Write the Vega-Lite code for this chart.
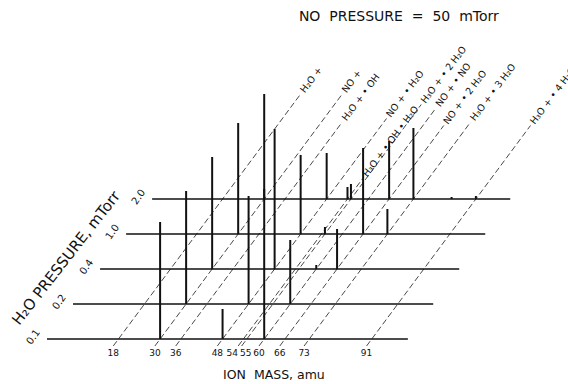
{
  "$schema": "https://vega.github.io/schema/vega-lite/v6.json",
  "width": 568,
  "height": 384,
  "autosize": {"type": "none"},
  "padding": 0,
  "background": "white",
  "config": {"view": {"stroke": null}, "font": "DejaVu Sans"},
  "datasets": {
    "traces": [
      {"pressure": "0.1", "rank": 0, "startMass": -2.6, "endMass": 101.4},
      {"pressure": "0.2", "rank": 1, "startMass": -2.6, "endMass": 101.2},
      {"pressure": "0.4", "rank": 2, "startMass": -2.3, "endMass": 101.2},
      {"pressure": "1.0", "rank": 3, "startMass": -2.3, "endMass": 101.2},
      {"pressure": "2.0", "rank": 4, "startMass": -2.3, "endMass": 100.9}
    ],
    "peaks": [
      {"pressure": "0.1", "rank": 0, "mass": 30, "intensity": 117},
      {"pressure": "0.1", "rank": 0, "mass": 48, "intensity": 30},
      {"pressure": "0.1", "rank": 0, "mass": 60, "intensity": 150},
      {"pressure": "0.2", "rank": 1, "mass": 30, "intensity": 113},
      {"pressure": "0.2", "rank": 1, "mass": 48, "intensity": 108},
      {"pressure": "0.2", "rank": 1, "mass": 60, "intensity": 64},
      {"pressure": "0.4", "rank": 2, "mass": 30, "intensity": 112},
      {"pressure": "0.4", "rank": 2, "mass": 48, "intensity": 140},
      {"pressure": "0.4", "rank": 2, "mass": 60, "intensity": 4},
      {"pressure": "0.4", "rank": 2, "mass": 66, "intensity": 40},
      {"pressure": "1.0", "rank": 3, "mass": 30, "intensity": 111},
      {"pressure": "1.0", "rank": 3, "mass": 48, "intensity": 79},
      {"pressure": "1.0", "rank": 3, "mass": 55, "intensity": 7},
      {"pressure": "1.0", "rank": 3, "mass": 66, "intensity": 86},
      {"pressure": "1.0", "rank": 3, "mass": 73, "intensity": 25},
      {"pressure": "2.0", "rank": 4, "mass": 30, "intensity": 105},
      {"pressure": "2.0", "rank": 4, "mass": 48, "intensity": 46},
      {"pressure": "2.0", "rank": 4, "mass": 54, "intensity": 12},
      {"pressure": "2.0", "rank": 4, "mass": 55, "intensity": 15},
      {"pressure": "2.0", "rank": 4, "mass": 66, "intensity": 58},
      {"pressure": "2.0", "rank": 4, "mass": 73, "intensity": 71},
      {"pressure": "2.0", "rank": 4, "mass": 84, "intensity": 2},
      {"pressure": "2.0", "rank": 4, "mass": 91, "intensity": 3}
    ],
    "ions": [
      {"mass": 18, "ion": "H₂O +", "guideTop": 7.0},
      {"mass": 30, "ion": "NO +", "guideTop": 7.0},
      {"mass": 36, "ion": "H₃O + • OH", "guideTop": 6.2},
      {"mass": 48, "ion": "NO + • H₂O", "guideTop": 6.3},
      {"mass": 54, "ion": "H₃O + • OH • H₂O", "guideTop": 4.6},
      {"mass": 55, "ion": "H₃O + • 2 H₂O", "guideTop": 6.7},
      {"mass": 60, "ion": "NO + • NO", "guideTop": 6.6},
      {"mass": 66, "ion": "NO + • 2 H₂O", "guideTop": 6.1},
      {"mass": 73, "ion": "H₃O + • 3 H₂O", "guideTop": 6.2},
      {"mass": 91, "ion": "H₃O + • 4 H₂O", "guideTop": 6.1}
    ]
  },
  "layer": [
    {
      "data": {"name": "ions"},
      "transform": [
        {"calculate": "datum.mass - 7.5 * 0.2", "as": "gx1"},
        {"calculate": "-35 * 0.2", "as": "gy1"},
        {"calculate": "datum.mass + 7.5 * datum.guideTop", "as": "gx2"},
        {"calculate": "35 * datum.guideTop", "as": "gy2"}
      ],
      "mark": {"type": "rule", "strokeDash": [6, 3], "strokeWidth": 0.9, "color": "#333"},
      "encoding": {
        "x": {"field": "gx1", "type": "quantitative", "scale": {"domain": [-16.14, 147.55], "nice": false, "zero": false}, "axis": null},
        "y": {"field": "gy1", "type": "quantitative", "scale": {"domain": [-45, 339], "nice": false, "zero": false}, "axis": null},
        "x2": {"field": "gx2"},
        "y2": {"field": "gy2"}
      }
    },
    {
      "data": {"name": "traces"},
      "transform": [
        {"calculate": "datum.startMass + 7.5 * datum.rank", "as": "bx1"},
        {"calculate": "datum.endMass + 7.5 * datum.rank", "as": "bx2"},
        {"calculate": "35 * datum.rank", "as": "by"}
      ],
      "mark": {"type": "rule", "strokeWidth": 1.3, "color": "#111"},
      "encoding": {
        "x": {"field": "bx1", "type": "quantitative", "scale": {"domain": [-16.14, 147.55], "nice": false, "zero": false}, "axis": null},
        "x2": {"field": "bx2"},
        "y": {"field": "by", "type": "quantitative", "scale": {"domain": [-45, 339], "nice": false, "zero": false}, "axis": null}
      }
    },
    {
      "data": {"name": "peaks"},
      "transform": [
        {"calculate": "datum.mass + 7.5 * datum.rank", "as": "px"},
        {"calculate": "35 * datum.rank", "as": "py1"},
        {"calculate": "35 * datum.rank + datum.intensity", "as": "py2"}
      ],
      "mark": {"type": "rule", "strokeWidth": 2, "color": "#111"},
      "encoding": {
        "x": {"field": "px", "type": "quantitative", "scale": {"domain": [-16.14, 147.55], "nice": false, "zero": false}, "axis": null},
        "y": {"field": "py1", "type": "quantitative", "scale": {"domain": [-45, 339], "nice": false, "zero": false}, "axis": null},
        "y2": {"field": "py2"}
      }
    },
    {
      "data": {"name": "ions"},
      "transform": [
        {"calculate": "datum.mass + 7.5 * datum.guideTop", "as": "lx"},
        {"calculate": "35 * datum.guideTop", "as": "ly"}
      ],
      "mark": {"type": "text", "angle": -53, "align": "left", "baseline": "middle", "dx": 3, "fontSize": 9.5, "color": "#111"},
      "encoding": {
        "x": {"field": "lx", "type": "quantitative", "scale": {"domain": [-16.14, 147.55], "nice": false, "zero": false}, "axis": null},
        "y": {"field": "ly", "type": "quantitative", "scale": {"domain": [-45, 339], "nice": false, "zero": false}, "axis": null},
        "text": {"field": "ion"}
      }
    },
    {
      "data": {"name": "ions"},
      "transform": [
        {"filter": "datum.mass != 54 && datum.mass != 55"},
        {"calculate": "datum.mass - 7.5 * 0.2", "as": "tx"},
        {"calculate": "-14", "as": "ty"}
      ],
      "mark": {"type": "text", "align": "center", "baseline": "middle", "fontSize": 9, "color": "#111"},
      "encoding": {
        "x": {"field": "tx", "type": "quantitative", "scale": {"domain": [-16.14, 147.55], "nice": false, "zero": false}, "axis": null},
        "y": {"field": "ty", "type": "quantitative", "scale": {"domain": [-45, 339], "nice": false, "zero": false}, "axis": null},
        "text": {"field": "mass"}
      }
    },
    {
      "data": {"name": "ions"},
      "transform": [
        {"filter": "datum.mass == 54"},
        {"calculate": "datum.mass - 7.5 * 0.2", "as": "tx"},
        {"calculate": "-14", "as": "ty"}
      ],
      "mark": {"type": "text", "align": "center", "baseline": "middle", "dx": -6, "fontSize": 9, "color": "#111"},
      "encoding": {
        "x": {"field": "tx", "type": "quantitative", "scale": {"domain": [-16.14, 147.55], "nice": false, "zero": false}, "axis": null},
        "y": {"field": "ty", "type": "quantitative", "scale": {"domain": [-45, 339], "nice": false, "zero": false}, "axis": null},
        "text": {"field": "mass"}
      }
    },
    {
      "data": {"name": "ions"},
      "transform": [
        {"filter": "datum.mass == 55"},
        {"calculate": "datum.mass - 7.5 * 0.2", "as": "tx"},
        {"calculate": "-14", "as": "ty"}
      ],
      "mark": {"type": "text", "align": "center", "baseline": "middle", "dx": 4, "fontSize": 9, "color": "#111"},
      "encoding": {
        "x": {"field": "tx", "type": "quantitative", "scale": {"domain": [-16.14, 147.55], "nice": false, "zero": false}, "axis": null},
        "y": {"field": "ty", "type": "quantitative", "scale": {"domain": [-45, 339], "nice": false, "zero": false}, "axis": null},
        "text": {"field": "mass"}
      }
    },
    {
      "data": {"name": "traces"},
      "transform": [
        {"calculate": "datum.startMass - 3.9 + 7.5 * datum.rank", "as": "lx"},
        {"calculate": "35 * datum.rank + 2", "as": "ly"}
      ],
      "mark": {"type": "text", "angle": -55, "align": "center", "baseline": "middle", "fontSize": 10, "color": "#111"},
      "encoding": {
        "x": {"field": "lx", "type": "quantitative", "scale": {"domain": [-16.14, 147.55], "nice": false, "zero": false}, "axis": null},
        "y": {"field": "ly", "type": "quantitative", "scale": {"domain": [-45, 339], "nice": false, "zero": false}, "axis": null},
        "text": {"field": "pressure"}
      }
    },
    {
      "data": {"values": [{}]},
      "mark": {"type": "text", "angle": -52, "align": "center", "baseline": "middle", "fontSize": 15, "color": "#111", "text": "H₂O\u00a0PRESSURE,\u00a0mTorr"},
      "encoding": {
        "x": {"datum": 2.9, "type": "quantitative", "scale": {"domain": [-16.14, 147.55], "nice": false, "zero": false}, "axis": null},
        "y": {"datum": 81, "type": "quantitative", "scale": {"domain": [-45, 339], "nice": false, "zero": false}, "axis": null}
      }
    },
    {
      "data": {"values": [{}]},
      "mark": {"type": "text", "align": "center", "baseline": "middle", "fontSize": 12.5, "color": "#111", "text": "ION\u00a0\u00a0MASS,\u00a0amu"},
      "encoding": {
        "x": {"datum": 62.8, "type": "quantitative", "scale": {"domain": [-16.14, 147.55], "nice": false, "zero": false}, "axis": null},
        "y": {"datum": -36, "type": "quantitative", "scale": {"domain": [-45, 339], "nice": false, "zero": false}, "axis": null}
      }
    },
    {
      "data": {"values": [{}]},
      "mark": {"type": "text", "align": "center", "baseline": "middle", "fontSize": 14, "color": "#111", "text": "NO\u00a0\u00a0PRESSURE\u00a0\u00a0=\u00a0\u00a050\u00a0\u00a0mTorr"},
      "encoding": {
        "x": {"datum": 98.8, "type": "quantitative", "scale": {"domain": [-16.14, 147.55], "nice": false, "zero": false}, "axis": null},
        "y": {"datum": 322, "type": "quantitative", "scale": {"domain": [-45, 339], "nice": false, "zero": false}, "axis": null}
      }
    }
  ]
}
